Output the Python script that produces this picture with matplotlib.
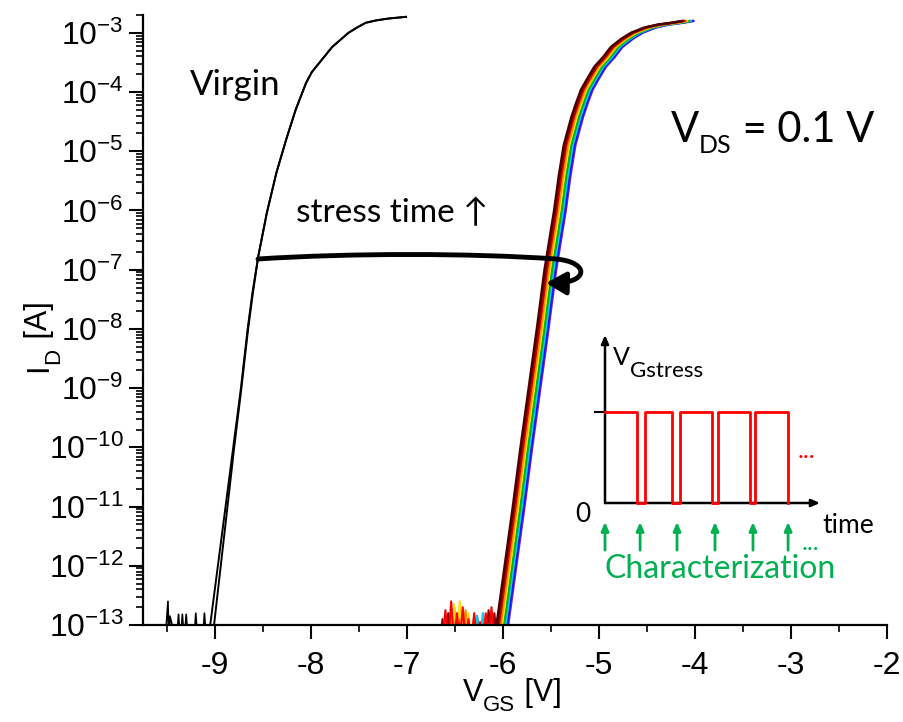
import numpy as np
import matplotlib
matplotlib.use("Agg")
import matplotlib.pyplot as plt
from matplotlib.path import Path
from matplotlib.patches import FancyArrowPatch
from matplotlib.transforms import IdentityTransform
from matplotlib.ticker import FixedLocator, MultipleLocator, LogLocator, FuncFormatter, NullFormatter

# ---------------- data ----------------
# Virgin transfer curves (two sweeps), log10(I_D) levels and V_GS values
virgin_logI = [-13.3, -13.0, -12.0, -11.0, -10.0, -9.0, -8.0, -7.39, -6.78, -6.04,
               -5.36, -4.81, -4.30, -3.84, -3.66, -3.46, -3.24, -3.0, -2.91, -2.83,
               -2.79, -2.76, -2.73]
virgin_V1 = [-9.07, -9.05, -8.97, -8.89, -8.81, -8.73, -8.66, -8.61, -8.55, -8.46,
             -8.36, -8.26, -8.16, -8.05, -7.99, -7.89, -7.78, -7.61, -7.52, -7.43,
             -7.32, -7.20, -7.01]
virgin_V2 = [-9.03, -9.01, -8.94, -8.87, -8.80, -8.725, -8.655, -8.605, -8.55, -8.46,
             -8.36, -8.26, -8.16, -8.05, -7.99, -7.89, -7.78, -7.61, -7.52, -7.43,
             -7.32, -7.20, -7.01]

virgin_noise_V = [-9.52, -9.49, -9.48, -9.47, -9.40, -9.38, -9.36, -9.34, -9.32, -9.30,
                  -9.28, -9.22, -9.20, -9.18, -9.13, -9.11, -9.09]
virgin_noise_logI = [-13.3, -12.6, -13.3, -12.85, -13.3, -12.82, -13.3, -12.82, -13.3, -12.82,
                     -13.3, -13.3, -12.8, -13.3, -13.3, -12.8, -13.3]

# Stressed curves: common current levels, reference (middle) curve V_GS and per-curve shift
stress_logI = [-13.3, -13.0, -12.0, -11.0, -10.0, -9.0, -8.0, -7.0, -6.5, -6.0,
               -5.4, -4.9, -4.42, -4.18, -3.96, -3.76, -3.57, -3.41, -3.24, -3.10,
               -3.0, -2.91, -2.86, -2.83, -2.80]
stress_V_mid = [-6.01, -5.99, -5.905, -5.82, -5.74, -5.655, -5.57, -5.49, -5.44, -5.39,
                -5.34, -5.29, -5.21, -5.16, -5.11, -5.04, -4.97, -4.88, -4.80, -4.69,
                -4.59, -4.45, -4.31, -4.17, -4.06]
stress_shift = [-0.078, -0.066, -0.052, -0.036, -0.022, 0.0, 0.016, 0.032, 0.044]
stress_colors = ['#4a0000', '#8b0000', '#e00000', '#ff8c00', '#ffe000',
                 '#00b400', '#00d0f0', '#1010ff', '#7020c0']

noise_V = [-6.66, -6.63, -6.60, -6.57, -6.54, -6.51, -6.48, -6.45, -6.42, -6.39, -6.36,
           -6.33, -6.30, -6.27, -6.24, -6.21, -6.18, -6.15, -6.12, -6.09, -6.06]
noise_darkred = [-13.3, -12.9, -13.3, -12.8, -13.3, -12.7, -13.3, -12.9, -13.3, -12.8, -13.3,
                 -13.0, -13.3, -12.85, -13.3, -12.9, -13.3, -12.75, -13.3, -12.8, -13.3]
noise_red = [-13.3, -13.3, -12.75, -13.3, -12.6, -13.3, -12.8, -13.3, -12.7, -13.3, -12.9,
             -13.3, -12.8, -13.3, -12.95, -13.3, -12.8, -13.3, -12.7, -13.3, -12.9]
noise_yellow = [-13.3, -13.3, -12.85, -13.3, -13.3, -12.65, -13.3, -12.6, -13.3, -13.3, -12.8,
                -13.3, -13.3, -13.3, -13.3, -13.3, -12.9, -13.3, -13.3, -13.3, -13.3]
noise_orange = [-13.3, -13.3, -13.3, -13.3, -12.9, -13.3, -13.3, -13.3, -13.3, -12.75, -13.3,
                -13.3, -12.85, -13.3, -13.3, -13.3, -13.3, -13.3, -12.85, -13.3, -13.3]
noise_cyan = [-13.3, -13.3, -13.3, -13.3, -13.3, -13.3, -13.3, -13.3, -13.3, -13.3, -13.3,
              -13.3, -13.3, -12.85, -13.3, -12.8, -13.3, -13.3, -13.3, -13.3, -13.3]

x_ticks = [-9, -8, -7, -6, -5, -4, -3, -2]
y_decades = list(range(-13, -2))

# Inset schematic: stress pulses (start/end) and characterization instants
pulse_start = [0.0, 1.12, 2.09, 3.15, 4.19]
pulse_end = [0.89, 1.87, 2.99, 4.05, 5.11]
char_times = [0.0, 0.98, 2.01, 3.07, 4.13, 5.11]

# ---------------- figure ----------------
plt.rcParams['font.family'] = ['Liberation Sans', 'DejaVu Sans']
plt.rcParams['axes.unicode_minus'] = False
plt.rcParams['mathtext.fontset'] = 'custom'
plt.rcParams['mathtext.rm'] = 'Liberation Sans'
plt.rcParams['mathtext.default'] = 'regular'

W, H = 904, 722
fig = plt.figure(figsize=(W / 100, H / 100), dpi=100)


def fx(x):
    return x / W


def fy(y):
    return 1 - y / H


ax = fig.add_axes([fx(143), fy(625), fx(887) - fx(143), fy(15) - fy(625)])
ax.set_yscale('log')
ax.set_xlim(-9.75, -2)
ax.set_ylim(1e-13, 2e-3)

# virgin
ax.plot(virgin_noise_V, 10.0 ** np.array(virgin_noise_logI), color='k', lw=1.2)
ax.plot(virgin_V1, 10.0 ** np.array(virgin_logI), color='k', lw=1.4, solid_joinstyle='round')
ax.plot(virgin_V2, 10.0 ** np.array(virgin_logI), color='k', lw=1.4, solid_joinstyle='round')

# stressed noise floor
for arr, c in [(noise_darkred, '#8b0000'), (noise_orange, '#ff8c00'), (noise_yellow, '#ffe000'),
               (noise_cyan, '#00d0f0'), (noise_red, '#ff0000')]:
    ax.plot(noise_V, 10.0 ** np.array(arr), color=c, lw=1.5)

# stressed curves
for sh, c in list(zip(stress_shift, stress_colors))[::-1]:
    ax.plot(np.array(stress_V_mid) + sh, 10.0 ** np.array(stress_logI), color=c, lw=1.7,
            solid_joinstyle='round')

for s in ['top', 'right']:
    ax.spines[s].set_visible(False)
for s in ['left', 'bottom']:
    ax.spines[s].set_linewidth(1.6)

ax.xaxis.set_major_locator(FixedLocator(x_ticks))
ax.xaxis.set_minor_locator(MultipleLocator(0.5))
ax.yaxis.set_major_locator(FixedLocator([10.0 ** k for k in y_decades]))
ax.yaxis.set_minor_locator(LogLocator(base=10, subs=np.arange(2, 10), numticks=100))
ax.yaxis.set_minor_formatter(NullFormatter())
ax.yaxis.set_major_formatter(FuncFormatter(lambda v, p: r'$\mathregular{10^{%d}}$' % round(np.log10(v))))
ax.xaxis.set_major_formatter(FuncFormatter(lambda v, p: '%d' % v))
ax.tick_params(which='major', direction='out', length=10, width=1.5, labelsize=23)
ax.tick_params(which='minor', direction='out', length=5, width=1.2)
ax.tick_params(axis='x', which='major', pad=9)
ax.tick_params(axis='y', which='major', pad=4)

renderer = fig.canvas.get_renderer()


def chain(x, y, parts, rotation=0, color='k', family=None):
    """Draw text pieces one after another; x,y in pixels from top-left, y is baseline."""
    cx, cy = x, H - y
    for s, size, dy in parts:
        kw = dict(fontsize=size, color=color, ha='left', va='baseline',
                  rotation=rotation, rotation_mode='anchor', transform=IdentityTransform())
        if family is not None:
            kw['family'] = family
        if rotation == 0:
            t = fig.text(cx, cy - dy, s, **kw)
            cx += t.get_window_extent(renderer).width
        else:
            t = fig.text(cx + dy, cy, s, **kw)
            cy += t.get_window_extent(renderer).height
    return cx, cy


calib = ['Lato', 'DejaVu Sans']

# axis labels
chain(463, 701, [('V', 22, 0), ('GS', 16, 10), (' [V]', 22, 0)])
chain(47, 372, [('I', 22, 0), ('D', 16, 12), (' [A]', 22, 0)], rotation=90)

# annotations
chain(190, 95, [('Virgin', 25, 0)], family=calib)
chain(296, 222, [('stress time \u2191', 24, 0)], family=calib)
chain(671, 142, [('V', 30, 0), ('DS', 18, 11), (' = 0.1 V', 30, 0)], family=calib)


def P(x, y):
    return (x, H - y)


verts = [P(258, 259), P(350, 253), P(470, 253), P(556, 259),
         P(590, 262), P(590, 284), P(546, 283)]
codes = [Path.MOVETO, Path.CURVE4, Path.CURVE4, Path.CURVE4, Path.CURVE4, Path.CURVE4, Path.CURVE4]
arr = FancyArrowPatch(path=Path(verts, codes), arrowstyle='-|>,head_length=0.7,head_width=0.4',
                      mutation_scale=17, lw=3.5, color='k', transform=IdentityTransform(),
                      shrinkA=0, shrinkB=0)
fig.add_artist(arr)

# ---------------- inset schematic ----------------
axi = fig.add_axes([fx(605), fy(503), fx(820) - fx(605), fy(335) - fy(503)])
axi.set_xlim(0, 6)
axi.set_ylim(0, 1.85)
axi.axis('off')
axstyle = dict(arrowstyle='-|>,head_length=0.5,head_width=0.22', lw=1.8, color='k',
               shrinkA=0, shrinkB=0)
axi.annotate('', xy=(0, 1.85), xytext=(0, 0), arrowprops=axstyle, annotation_clip=False)
axi.annotate('', xy=(6.0, 0), xytext=(0, 0), arrowprops=axstyle, annotation_clip=False)
axi.plot([-0.28, 0], [1, 1], color='k', lw=1.5, clip_on=False)

wt, wv = [], []
for i, (s, e) in enumerate(zip(pulse_start, pulse_end)):
    if i > 0:
        wt.append(s)
        wv.append(0)
    wt += [s, e, e]
    wv += [1, 1, 0]
axi.plot(wt, wv, color='#ff0000', lw=2, clip_on=False, zorder=5)

gstyle = dict(arrowstyle='-|>,head_length=0.5,head_width=0.22', lw=2, color='#00b050',
              shrinkA=0, shrinkB=0)
for t in char_times:
    axi.annotate('', xy=(t, -0.21), xytext=(t, -0.52), arrowprops=gstyle, annotation_clip=False)

chain(613, 365, [('V', 18, 0), ('Gstress', 16, 12)], family=calib)
fig.text(583, H - 515, '0', fontsize=19, family=calib, ha='center', va='center',
         transform=IdentityTransform())
chain(822, 533, [('time', 19, 0)], family=calib)
chain(798, 458, [('...', 18, 0)], color='#ff0000', family=calib)
chain(802, 550, [('...', 18, 0)], color='#00b050', family=calib)
chain(605, 578, [('Characterization', 23, 0)], color='#00b050', family=calib)

fig.savefig('out.png', dpi=100)
